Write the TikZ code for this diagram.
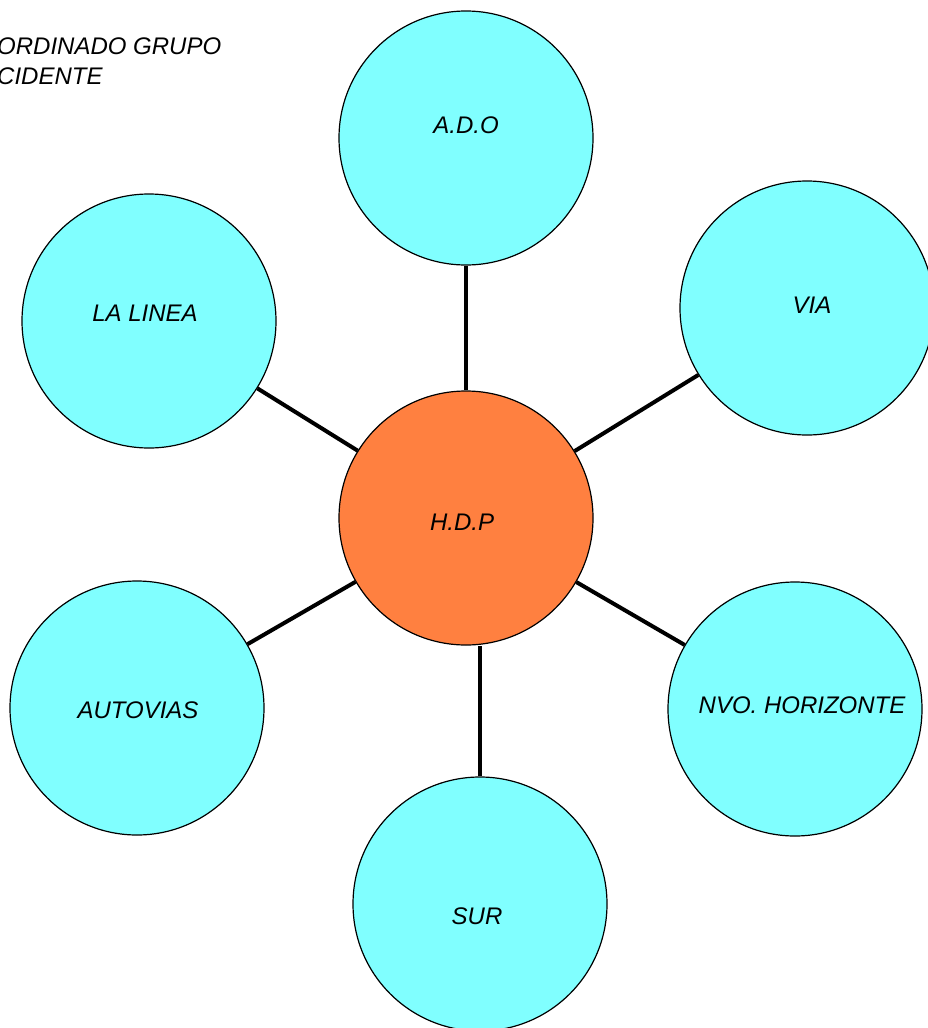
\documentclass[tikz,border=0pt]{standalone}
\usepackage{fontspec}
\setmainfont{Liberation Sans}
\usepackage{tikz}
\usetikzlibrary{calc}

\definecolor{cyanfill}{RGB}{128,255,255}
\definecolor{orangefill}{RGB}{255,128,64}

\tikzset{
  spoke/.style={circle,draw=black,line width=1.2pt,fill=cyanfill,minimum size=254pt,inner sep=0pt},
  hub/.style={spoke,fill=orangefill},
  tag/.style={inner sep=0pt},
  link/.style={line width=4pt}
}

\begin{document}
\begin{tikzpicture}[x=1pt,y=-1pt,font=\fontsize{24}{30}\selectfont\itshape]
  \useasboundingbox (0,0) rectangle (928,1028);
  \node[anchor=north west,align=left,inner sep=0pt] (title) at (-3,38) {ORDINADO GRUPO\\CIDENTE};
  \node[hub,label={[tag,xshift=-4pt,yshift=-4pt]center:H.D.P}] (hdp) at (466,518) {};
  \node[spoke,label={[tag,yshift=13pt]center:A.D.O}] (ado) at (466,138) {};
  \node[spoke,label={[tag,xshift=-4pt,yshift=8pt]center:LA LINEA}] (linea) at (149,321) {};
  \node[spoke,label={[tag,xshift=5pt,yshift=3pt]center:VIA}] (via) at (807,308) {};
  \node[spoke,label={[tag,xshift=1pt,yshift=-2pt]center:AUTOVIAS}] (autovias) at (137,708) {};
  \node[spoke,label={[tag,xshift=7pt,yshift=4pt]center:NVO. HORIZONTE}] (nvo) at (795,709) {};
  \node[spoke,label={[tag,xshift=-3pt,yshift=-12pt]center:SUR}] (sur) at (480,904) {};
  \draw[link] (ado) -- (hdp);
  \draw[link] (linea) -- (hdp);
  \draw[link] (via) -- (hdp);
  \draw[link] (autovias) -- (hdp);
  \draw[link] (nvo) -- (hdp);
  \draw[link] (sur.north) -- (sur.north |- hdp.south);
\end{tikzpicture}
\end{document}
